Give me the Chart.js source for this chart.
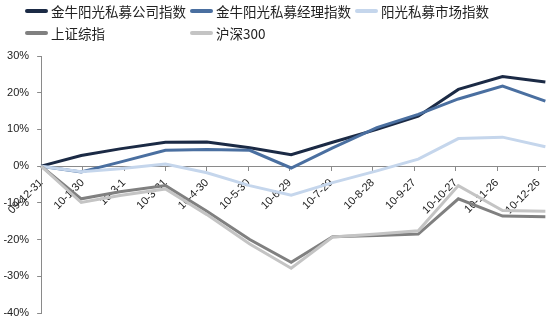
<!DOCTYPE html>
<html>
<head>
<meta charset="utf-8">
<script src="https://cdn.jsdelivr.net/npm/chart.js@4/dist/chart.umd.min.js"></script>
<style>
    body { margin: 0; background: #fff; }
    #wrap { position: relative; width: 550px; height: 321px; }
    #legend { position: absolute; left: 0; top: 0; width: 550px; font-family: "Noto Sans CJK SC", sans-serif; font-size: 13.5px; color: #222; }
    .item { position: absolute; display: flex; align-items: center; height: 22px; white-space: nowrap; }
    .sw { width: 23px; height: 4px; margin-right: 3px; border-radius: 2px; }
</style>
</head>
<body>
<div id="wrap">
    <canvas id="chart" width="550" height="321"></canvas>
    <div id="legend"></div>
</div>
<script>
// trading dates of each point (month ends)
const dates = ['2009-12-31','2010-01-29','2010-02-26','2010-03-31','2010-04-30','2010-05-31','2010-06-30',
               '2010-07-30','2010-08-31','2010-09-30','2010-10-29','2010-11-30','2010-12-31'];
const tickLabels = ['09-12-31','10-1-30','10-3-1','10-3-31','10-4-30','10-5-30','10-6-29',
                    '10-7-29','10-8-28','10-9-27','10-10-27','10-11-26','10-12-26'];

const seriesNames = ['金牛阳光私募公司指数','金牛阳光私募经理指数','阳光私募市场指数','上证综指','沪深300'];
const companyIdx = [0, 2.9, 4.7, 6.5, 6.6, 5.0, 3.1, 6.5, 10.0, 13.6, 20.9, 24.4, 22.9];
const managerIdx = [0, -1.6, 1.1, 4.3, 4.5, 4.3, -0.5, 5.0, 10.5, 14.1, 18.3, 21.8, 17.7];
const marketIdx  = [0, -1.5, -0.7, 0.6, -1.8, -5.3, -7.9, -4.5, -1.3, 1.9, 7.5, 7.9, 5.3];
const sseIdx     = [0, -8.9, -7.0, -5.3, -12.3, -20.0, -26.2, -19.2, -18.9, -18.5, -8.9, -13.6, -13.8];
const csi300     = [0, -9.9, -8.0, -6.2, -13.2, -21.2, -27.8, -19.3, -18.5, -17.6, -5.3, -12.1, -12.3];
const seriesColors = ['#1b2a45', '#4a6fa0', '#c5d6ec', '#808080', '#c4c4c4'];

const base = Date.UTC(2009, 11, 31);
function dayOf(y, m, d) {
    return Math.round((Date.UTC(y, m - 1, d) - base) / 86400000);
}
const pointDays = dates.map(s => {
    const p = s.split('-').map(Number);
    return dayOf(p[0], p[1], p[2]);
});
const tickDays = tickLabels.map(s => {
    const p = s.split('-').map(Number);
    return dayOf(2000 + p[0], p[1], p[2]);
});

const allValues = [companyIdx, managerIdx, marketIdx, sseIdx, csi300];
const datasets = allValues.map((vals, i) => ({
    label: seriesNames[i],
    data: vals.map((v, j) => ({x: pointDays[j], y: v})),
    borderColor: seriesColors[i],
    backgroundColor: seriesColors[i],
    borderWidth: 3,
    pointRadius: 0,
    order: 5 - i,
    clip: false
}));

// legend in three columns, like the original
const legend = document.getElementById('legend');
seriesNames.forEach((name, i) => {
    const el = document.createElement('div');
    el.className = 'item';
    el.style.left = (25 + 165 * (i % 3)) + 'px';
    el.style.top = (Math.floor(i / 3) * 22) + 'px';
    el.innerHTML = '<span class="sw" style="background:' + seriesColors[i] + '"></span><span>' + name + '</span>';
    legend.appendChild(el);
});

const tickFont = {family: '"Liberation Sans", Arial, sans-serif', size: 11};

new Chart(document.getElementById('chart'), {
    type: 'line',
    data: {datasets: datasets},
    options: {
        responsive: false,
        animation: false,
        layout: {padding: {top: 56, right: 0, bottom: 8, left: 0}},
        plugins: {legend: {display: false}, tooltip: {enabled: false}},
        scales: {
            x: {
                type: 'linear',
                min: 0,
                max: 365,
                position: {y: 0},
                afterBuildTicks: function(scale) {
                    scale.ticks = tickDays.map(v => ({value: v}));
                },
                ticks: {
                    autoSkip: false,
                    minRotation: 45,
                    maxRotation: 45,
                    padding: 10,
                    color: '#222',
                    font: {family: tickFont.family, size: 11, lineHeight: 0.2},
                    callback: function(v, i) { return tickLabels[i]; }
                },
                grid: {drawOnChartArea: false, tickLength: 4, color: '#8a8a8a'},
                border: {color: '#8a8a8a'}
            },
            y: {
                min: -40,
                max: 30,
                ticks: {stepSize: 10, color: '#222', font: tickFont, padding: 8,
                        callback: function(v) { return v + '%'; }},
                grid: {drawOnChartArea: false, tickLength: 4, color: '#8a8a8a'},
                border: {color: '#8a8a8a'},
                afterFit: function(scale) {
                    scale.width = 40;
                    scale.paddingTop = 0;
                    scale.paddingBottom = 0;
                }
            }
        }
    }
});
</script>
</body>
</html>
